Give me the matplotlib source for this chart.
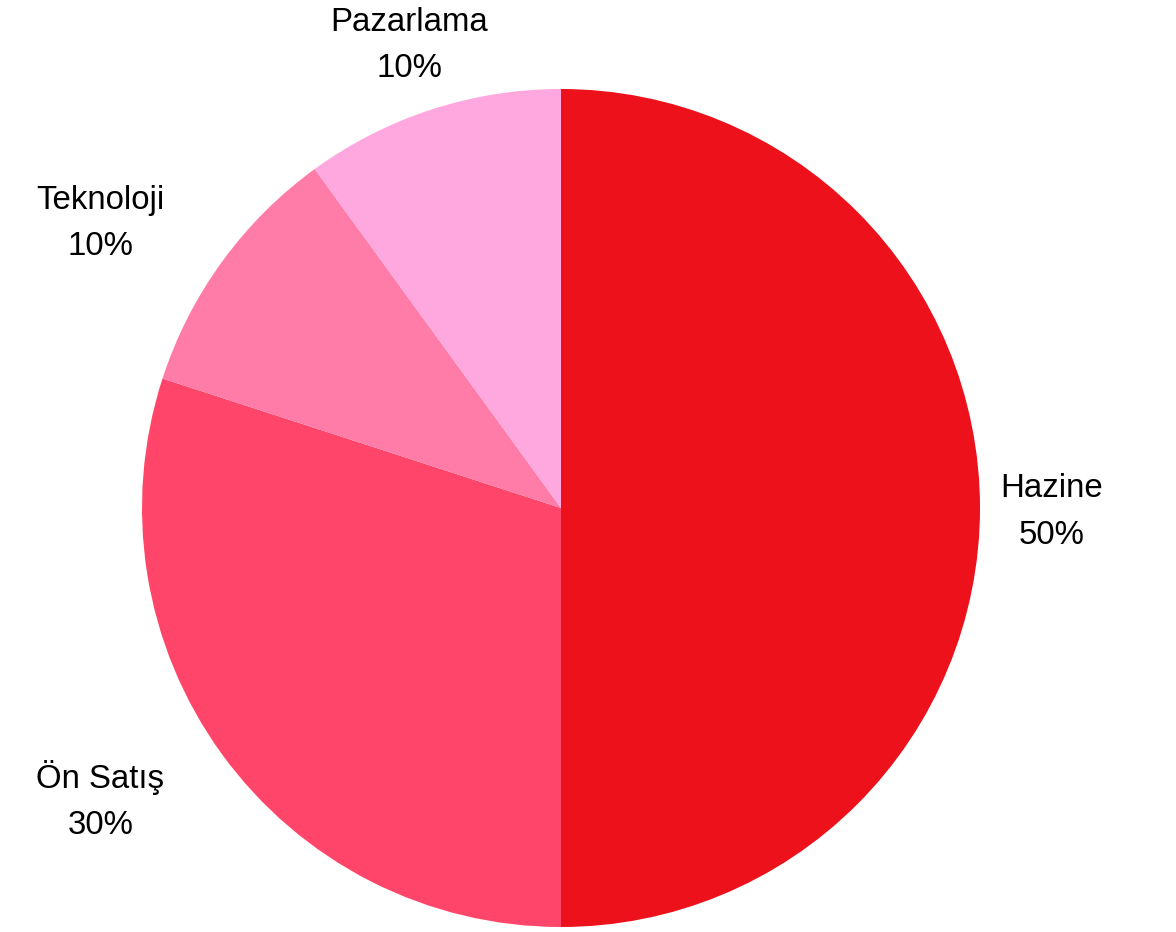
import matplotlib.pyplot as plt
import matplotlib.transforms as mtransforms

categories = ['Hazine', 'Ön Satış', 'Teknoloji', 'Pazarlama']
shares = [50, 30, 10, 10]
colors = ['#EC111A', '#FF466A', '#FF7BA8', '#FFA8E0']
label_align = ['center', 'right', 'right', 'center']

plt.rcParams['font.family'] = ['Liberation Sans', 'DejaVu Sans']

fig = plt.figure(figsize=(11.76, 9.32), dpi=100)
ax = fig.add_axes([0, 0, 1, 1])

labels = [f'{c}\n{s}%' for c, s in zip(categories, shares)]
wedges, texts = ax.pie(shares, labels=labels, colors=colors, startangle=90,
                       counterclock=False, radius=419, center=(561, 424),
                       labeldistance=1.17,
                       wedgeprops=dict(linewidth=0),
                       textprops=dict(fontsize=23.8, color='black', linespacing=1.63))
# nudge labels down a few pixels
shift = mtransforms.ScaledTranslation(0, -4 / 100, fig.dpi_scale_trans)
for t, ha in zip(texts, label_align):
    t.set_horizontalalignment(ha)
    t.set_verticalalignment('center')
    t.set_multialignment('center')
    t.set_transform(t.get_transform() + shift)

ax.set_xlim(0, 1176)
ax.set_ylim(0, 932)
ax.set_aspect('equal')
ax.axis('off')

fig.savefig('out.png', dpi=100)
